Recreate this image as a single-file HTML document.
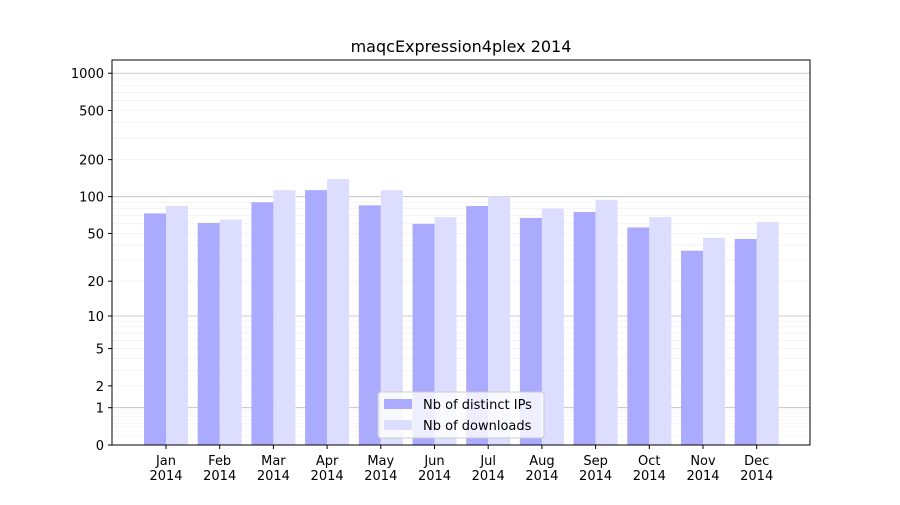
<!DOCTYPE html>
<html><head><meta charset="utf-8"><style>
body{margin:0;background:#fff;}
svg text{font-family:"DejaVu Sans","Liberation Sans",sans-serif;fill:#000;}
</style></head><body>
<svg id="c" width="900" height="500" xmlns="http://www.w3.org/2000/svg">
<rect width="900" height="500" fill="#fff"/>
<text x="461" y="52" font-size="16" text-anchor="middle">maqcExpression4plex 2014</text>
<g id="grid"></g><g id="bars"></g><g id="axes"></g>
</svg>
<script>
const months = ["Jan","Feb","Mar","Apr","May","Jun","Jul","Aug","Sep","Oct","Nov","Dec"];
const ips = [73,61,90,113,85,60,84,67,75,56,36,45];
const downloads = [84,65,113,139,113,68,100,80,94,68,46,62];
const majorTicks = [0,1,2,5,10,20,50,100,200,500,1000];
const NS="http://www.w3.org/2000/svg";
const L=112,R=810,T=60,B=445;
function y(v){return B-123.9*Math.log10(1+v);}
function xc(i){return 166+i*53.7;}
function mk(p,t,a){const e=document.createElementNS(NS,t);for(const k in a)e.setAttribute(k,a[k]);document.getElementById(p).appendChild(e);return e;}
// minor grid
for(let d=1;d<=1000;d*=10){for(let m=1;m<10;m++){const v=d*m;if(v>1300)break;
 const g=mk('grid','line',{x1:L,x2:R,y1:y(v),y2:y(v),stroke:m===1?'#bbbbbb':'#eeeeee','stroke-width':m===1?0.8:0.6});
 }}
for(let m=2;m<10;m++){const v=m/10;const g=mk('grid','line',{x1:L,x2:R,y1:y(v),y2:y(v),stroke:'#f2f2f2','stroke-width':0.6});
 }
months.forEach((m,i)=>{
 const b1=mk('bars','rect',{x:xc(i)-22,y:y(ips[i]),width:22,height:B-y(ips[i]),fill:'#aaaaff'});
 
 const b2=mk('bars','rect',{x:xc(i),y:y(downloads[i]),width:22,height:B-y(downloads[i]),fill:'#ddddff'});
 
 mk('axes','line',{x1:xc(i),x2:xc(i),y1:B,y2:B+4,stroke:'#000'});
 const t=mk('axes','text',{x:xc(i),y:B+20,'font-size':13,'text-anchor':'middle'});t.textContent=m;
 
 const t2=mk('axes','text',{x:xc(i),y:B+35,'font-size':13,'text-anchor':'middle'});t2.textContent='2014';
 
});
majorTicks.forEach(v=>{
 mk('axes','line',{x1:L-4,x2:L,y1:y(v),y2:y(v),stroke:'#000'});
 const t=mk('axes','text',{x:L-8,y:y(v)+5,'font-size':13,'text-anchor':'end'});t.textContent=v;
 
});
const fr=mk('axes','rect',{x:L,y:T,width:R-L,height:B-T,fill:'none',stroke:'#000','stroke-width':1});

const lg=mk('axes','rect',{x:378,y:392,width:166,height:46,rx:3,fill:'rgba(255,255,255,0.8)',stroke:'#ccc'});

[['#aaaaff','Nb of distinct IPs',404],['#ddddff','Nb of downloads',425]].forEach(([c,s,yy])=>{
 mk('axes','rect',{x:384,y:yy-5,width:28,height:10,fill:c});
 const t=mk('axes','text',{x:423,y:yy+5,'font-size':13});t.textContent=s;
 
});
</script>
</body></html>
